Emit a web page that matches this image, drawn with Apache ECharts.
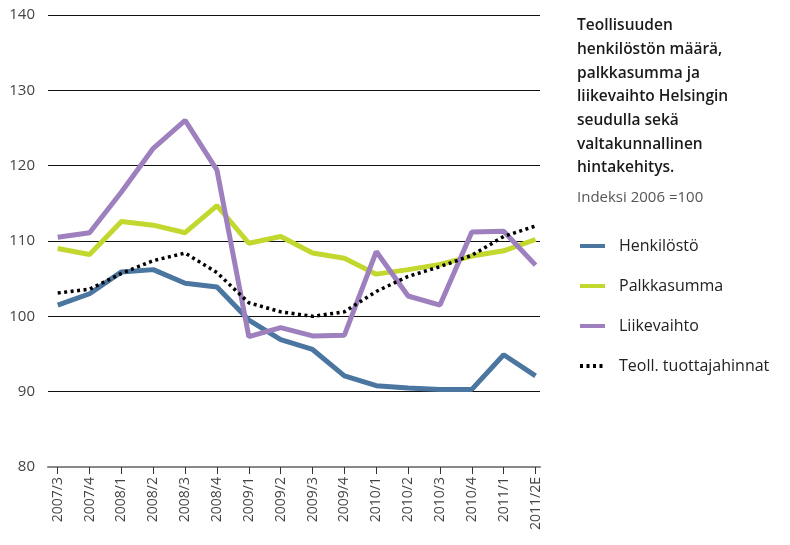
<!DOCTYPE html>
<html>
<head>
    <meta charset="utf-8">
    <title>Teollisuus</title>
    <script src="https://cdn.jsdelivr.net/npm/echarts@6/dist/echarts.min.js"></script>
</head>
<body style="margin:0">
    <div id="main" style="width: 790px;height: 545px;"></div>
    <script type="text/javascript">
        // neljännekset
        var kaudet = ['2007/3', '2007/4', '2008/1', '2008/2', '2008/3', '2008/4', '2009/1', '2009/2',
            '2009/3', '2009/4', '2010/1', '2010/2', '2010/3', '2010/4', '2011/1', '2011/2E'];
        var henkilosto = [101.5, 103.0, 105.9, 106.2, 104.4, 103.9, 99.5, 96.9, 95.6, 92.1, 90.8, 90.5, 90.3, 90.3, 94.9, 92.1];
        var palkkasumma = [109.0, 108.2, 112.6, 112.1, 111.1, 114.7, 109.7, 110.6, 108.4, 107.7, 105.6, 106.2, 106.9, 108.0, 108.7, 110.2];
        var liikevaihto = [110.5, 111.1, 116.5, 122.3, 126.0, 119.4, 97.3, 98.5, 97.4, 97.5, 108.6, 102.7, 101.5, 111.2, 111.3, 106.8];
        var hinnat = [103.1, 103.6, 105.7, 107.4, 108.4, 105.8, 101.8, 100.6, 100.0, 100.6, 103.3, 105.3, 106.6, 108.1, 110.6, 112.0];
        var yTicks = [80, 90, 100, 110, 120, 130, 140];

        var fontti = '"Open Sans", "Noto Sans", sans-serif';

        function pisteet(arr) {
            return arr.map(function (v, i) { return [i, v]; });
        }
        var indeksit = kaudet.map(function (k, i) { return i; });

        var myChart = echarts.init(document.getElementById('main'));

        var option = {
            animation: false,
            textStyle: { fontFamily: fontti },
            title: {
                text: 'Teollisuuden\nhenkilöstön määrä,\npalkkasumma ja\nliikevaihto Helsingin\nseudulla sekä\nvaltakunnallinen\nhintakehitys.',
                subtext: 'Indeksi 2006 =100',
                left: 577,
                top: 14,
                padding: 0,
                itemGap: 8,
                textStyle: { fontFamily: fontti, fontSize: 15.5, fontWeight: 600, color: '#1a1a1a', lineHeight: 23.7 },
                subtextStyle: { fontFamily: fontti, fontSize: 15, color: '#555', lineHeight: 20 }
            },
            legend: {
                orient: 'vertical',
                left: 578,
                top: 238,
                padding: 0,
                itemWidth: 25,
                itemHeight: 14,
                itemGap: 24,
                itemStyle: { opacity: 0 },
                lineStyle: { width: 4 },
                textStyle: { fontFamily: fontti, fontSize: 16, color: '#222', padding: [0, 0, 0, 9] },
                data: ['Henkilöstö', 'Palkkasumma', 'Liikevaihto', 'Teoll. tuottajahinnat']
            },
            grid: { left: 48, right: 250, top: 15, bottom: 78, containLabel: false },
            xAxis: {
                type: 'value',
                min: -0.305,
                max: 15.14,
                axisLine: { show: true, lineStyle: { color: '#888', width: 2 } },
                axisTick: { show: true, length: 7, customValues: indeksit, lineStyle: { color: '#333', width: 1 } },
                axisLabel: {
                    customValues: indeksit,
                    rotate: 90,
                    margin: 10,
                    fontSize: 14,
                    color: '#444',
                    formatter: function (v) { return kaudet[Math.round(v)]; }
                },
                splitLine: { show: false }
            },
            yAxis: {
                type: 'value',
                min: yTicks[0],
                max: yTicks[yTicks.length - 1],
                interval: 10,
                axisLine: { show: false },
                axisTick: { show: false },
                axisLabel: { margin: 13, fontSize: 15, color: '#444' },
                splitLine: { lineStyle: { color: '#111', width: 1 } }
            },
            series: [
                {
                    name: 'Henkilöstö', type: 'line', data: pisteet(henkilosto),
                    symbol: 'none', color: '#4a76a0',
                    lineStyle: { width: 5, color: '#4a76a0' }
                },
                {
                    name: 'Palkkasumma', type: 'line', data: pisteet(palkkasumma),
                    symbol: 'none', color: '#c3d82e',
                    lineStyle: { width: 5, color: '#c3d82e' }
                },
                {
                    name: 'Liikevaihto', type: 'line', data: pisteet(liikevaihto),
                    symbol: 'none', color: '#9d80bd',
                    lineStyle: { width: 5, color: '#9d80bd' }
                },
                {
                    name: 'Teoll. tuottajahinnat', type: 'line', data: pisteet(hinnat),
                    symbol: 'none', color: '#000',
                    lineStyle: { width: 3.5, color: '#000', type: [3, 3.5], cap: 'butt' }
                }
            ]
        };

        myChart.setOption(option);
    </script>
</body>
</html>
